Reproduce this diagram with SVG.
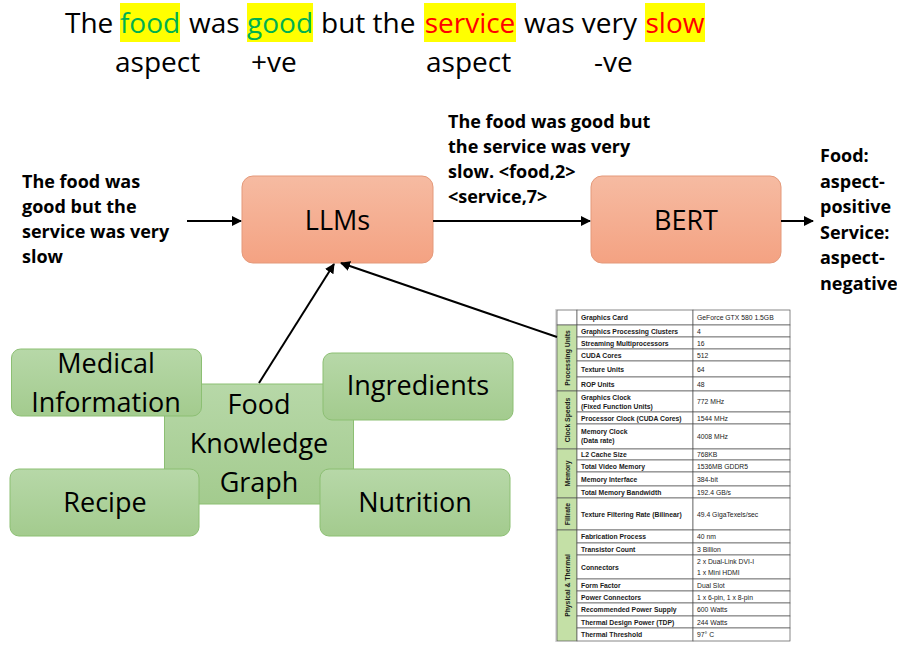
<svg xmlns="http://www.w3.org/2000/svg" width="897" height="645" viewBox="0 0 897 645">
<defs>
<linearGradient id="gOr" x1="0" y1="0" x2="0" y2="1"><stop offset="0" stop-color="#F6BBA2"/><stop offset="1" stop-color="#F4A282"/></linearGradient>
<linearGradient id="gGr" x1="0" y1="0" x2="0" y2="1"><stop offset="0" stop-color="#B7D8A8"/><stop offset="1" stop-color="#A3CB8E"/></linearGradient>
<marker id="ah" viewBox="0 0 10 10" refX="9" refY="5" markerWidth="5" markerHeight="5" orient="auto" markerUnits="strokeWidth"><path d="M0,0 L10,5 L0,10 z" fill="#000"/></marker>
<style>
.big{font-family:"Open Sans","Liberation Sans",sans-serif;font-size:28px;fill:#000}
.node{font-family:"Open Sans","Liberation Sans",sans-serif;font-size:27px;fill:#000;text-anchor:middle}
.bold{font-family:"Open Sans","Liberation Sans",sans-serif;font-size:18px;font-weight:bold;fill:#000}
.or{fill:url(#gOr);stroke:#E4997A;stroke-width:1}
.gr{fill:url(#gGr);stroke:#8CBF73;stroke-width:1}
.hl{fill:#FFFF00}
.conn{stroke:#000;stroke-width:2;fill:none;marker-end:url(#ah)}
.tl{font-family:"Liberation Sans",Arial,sans-serif;font-size:6.8px;font-weight:bold;fill:#1a1a1a}
.tv{font-family:"Liberation Sans",Arial,sans-serif;font-size:6.8px;fill:#1a1a1a}
.tc{font-family:"Liberation Sans",Arial,sans-serif;font-size:6.8px;font-weight:bold;fill:#1a1a1a;text-anchor:middle}
.cell{fill:#fff;stroke:#555;stroke-width:0.7}
.cat{fill:#C4E0A6;stroke:#555;stroke-width:0.7}
</style>
</defs>
<rect width="897" height="645" fill="#fff"/>

<g id="sentence">
<rect class="hl" x="120" y="3" width="60" height="39"/>
<rect class="hl" x="247" y="3" width="66" height="39"/>
<rect class="hl" x="424" y="3" width="92" height="39"/>
<rect class="hl" x="645" y="3" width="60" height="39"/>
<text class="big" y="33" x="65">The</text>
<text class="big" y="33" x="150" text-anchor="middle" style="fill:#00B050">food</text>
<text class="big" y="33" x="189">was</text>
<text class="big" y="33" x="280" text-anchor="middle" style="fill:#00B050">good</text>
<text class="big" y="33" x="321">but the</text>
<text class="big" y="33" x="470" text-anchor="middle" style="fill:#FF0000">service</text>
<text class="big" y="33" x="524">was very</text>
<text class="big" y="33" x="675" text-anchor="middle" style="fill:#FF0000">slow</text>
<text class="big" y="72" x="115">aspect</text>
<text class="big" y="72" x="251">+ve</text>
<text class="big" y="72" x="426">aspect</text>
<text class="big" y="72" x="594">-ve</text>
</g>

<g id="input-text">
<text class="bold" x="22" y="188">The food was</text>
<text class="bold" x="22" y="213">good but the</text>
<text class="bold" x="22" y="238">service was very</text>
<text class="bold" x="22" y="263">slow</text>
</g>

<g id="mid-label">
<text class="bold" x="448" y="128">The food was good but</text>
<text class="bold" x="448" y="153">the service was very</text>
<text class="bold" x="448" y="178">slow. &lt;food,2&gt;</text>
<text class="bold" x="448" y="203">&lt;service,7&gt;</text>
</g>

<g id="output-text">
<text class="bold" x="820" y="162">Food:</text>
<text class="bold" x="820" y="187.5">aspect-</text>
<text class="bold" x="820" y="213">positive</text>
<text class="bold" x="820" y="238.5">Service:</text>
<text class="bold" x="820" y="264">aspect-</text>
<text class="bold" x="820" y="289.5">negative</text>
</g>

<g id="llms">
<rect class="or" x="242" y="176" width="191" height="87" rx="11"/>
<text class="node" x="337.5" y="230">LLMs</text>
</g>
<g id="bert">
<rect class="or" x="591" y="176" width="190" height="87" rx="11"/>
<text class="node" x="686" y="230">BERT</text>
</g>

<g id="food-knowledge-graph">
<rect class="gr" x="164.5" y="384" width="189" height="120" rx="1"/>
<text class="node" x="259" y="414">Food</text>
<text class="node" x="259" y="453">Knowledge</text>
<text class="node" x="259" y="492">Graph</text>
</g>
<g id="medical-information">
<rect class="gr" x="11.5" y="349" width="190" height="67" rx="9"/>
<text class="node" x="106" y="373">Medical</text>
<text class="node" x="106" y="412">Information</text>
</g>
<g id="ingredients">
<rect class="gr" x="323" y="353" width="190" height="67" rx="9"/>
<text class="node" x="418" y="395">Ingredients</text>
</g>
<g id="recipe">
<rect class="gr" x="10" y="469" width="189" height="67" rx="9"/>
<text class="node" x="105" y="512">Recipe</text>
</g>
<g id="nutrition">
<rect class="gr" x="320" y="469" width="190" height="67" rx="9"/>
<text class="node" x="415" y="512">Nutrition</text>
</g>

<g id="gpu-table">
<rect x="555" y="309" width="2" height="333" fill="#ddd"/>
<rect class="cell" x="557" y="310" width="20" height="15"/>
<rect class="cell" x="577" y="310" width="116" height="15"/>
<rect class="cell" x="693" y="310" width="97" height="15"/>
<text class="tl" x="581" y="320">Graphics Card</text>
<text class="tv" x="697" y="320">GeForce GTX 580 1.5GB</text>
<rect class="cat" x="557" y="325" width="20" height="66"/>
<rect class="cat" x="557" y="391" width="20" height="58"/>
<rect class="cat" x="557" y="449" width="20" height="49"/>
<rect class="cat" x="557" y="498" width="20" height="32"/>
<rect class="cat" x="557" y="530" width="20" height="111"/>
<text class="tc" transform="translate(569.5,358) rotate(-90)">Processing Units</text>
<text class="tc" transform="translate(569.5,420) rotate(-90)">Clock Speeds</text>
<text class="tc" transform="translate(569.5,473.5) rotate(-90)">Memory</text>
<text class="tc" transform="translate(569.5,514) rotate(-90)">Fillrate</text>
<text class="tc" transform="translate(569.5,585.5) rotate(-90)">Physical &amp; Thermal</text>
<g>
<rect class="cell" x="577" y="325" width="116" height="12"/><rect class="cell" x="693" y="325" width="97" height="12"/>
<text class="tl" x="581" y="333.5">Graphics Processing Clusters</text><text class="tv" x="697" y="333.5">4</text>
<rect class="cell" x="577" y="337" width="116" height="12"/><rect class="cell" x="693" y="337" width="97" height="12"/>
<text class="tl" x="581" y="345.5">Streaming Multiprocessors</text><text class="tv" x="697" y="345.5">16</text>
<rect class="cell" x="577" y="349" width="116" height="12"/><rect class="cell" x="693" y="349" width="97" height="12"/>
<text class="tl" x="581" y="357.5">CUDA Cores</text><text class="tv" x="697" y="357.5">512</text>
<rect class="cell" x="577" y="361" width="116" height="16"/><rect class="cell" x="693" y="361" width="97" height="16"/>
<text class="tl" x="581" y="371.5">Texture Units</text><text class="tv" x="697" y="371.5">64</text>
<rect class="cell" x="577" y="377" width="116" height="14"/><rect class="cell" x="693" y="377" width="97" height="14"/>
<text class="tl" x="581" y="386.5">ROP Units</text><text class="tv" x="697" y="386.5">48</text>
<rect class="cell" x="577" y="391" width="116" height="21"/><rect class="cell" x="693" y="391" width="97" height="21"/>
<text class="tl" x="581" y="399.5">Graphics Clock</text><text class="tl" x="581" y="408.5">(Fixed Function Units)</text><text class="tv" x="697" y="404">772 MHz</text>
<rect class="cell" x="577" y="412" width="116" height="12"/><rect class="cell" x="693" y="412" width="97" height="12"/>
<text class="tl" x="581" y="420.5">Processor Clock (CUDA Cores)</text><text class="tv" x="697" y="420.5">1544 MHz</text>
<rect class="cell" x="577" y="424" width="116" height="25"/><rect class="cell" x="693" y="424" width="97" height="25"/>
<text class="tl" x="581" y="434">Memory Clock</text><text class="tl" x="581" y="443">(Data rate)</text><text class="tv" x="697" y="439">4008 MHz</text>
<rect class="cell" x="577" y="449" width="116" height="11"/><rect class="cell" x="693" y="449" width="97" height="11"/>
<text class="tl" x="581" y="457">L2 Cache  Size</text><text class="tv" x="697" y="457">768KB</text>
<rect class="cell" x="577" y="460" width="116" height="12"/><rect class="cell" x="693" y="460" width="97" height="12"/>
<text class="tl" x="581" y="468.5">Total Video Memory</text><text class="tv" x="697" y="468.5">1536MB GDDR5</text>
<rect class="cell" x="577" y="472" width="116" height="14"/><rect class="cell" x="693" y="472" width="97" height="14"/>
<text class="tl" x="581" y="481.5">Memory Interface</text><text class="tv" x="697" y="481.5">384-bit</text>
<rect class="cell" x="577" y="486" width="116" height="12"/><rect class="cell" x="693" y="486" width="97" height="12"/>
<text class="tl" x="581" y="494.5">Total Memory Bandwidth</text><text class="tv" x="697" y="494.5">192.4 GB/s</text>
<rect class="cell" x="577" y="498" width="116" height="32"/><rect class="cell" x="693" y="498" width="97" height="32"/>
<text class="tl" x="581" y="516.5">Texture Filtering Rate (Bilinear)</text><text class="tv" x="697" y="516.5">49.4 GigaTexels/sec</text>
<rect class="cell" x="577" y="530" width="116" height="13"/><rect class="cell" x="693" y="530" width="97" height="13"/>
<text class="tl" x="581" y="539">Fabrication  Process</text><text class="tv" x="697" y="539">40 nm</text>
<rect class="cell" x="577" y="543" width="116" height="12"/><rect class="cell" x="693" y="543" width="97" height="12"/>
<text class="tl" x="581" y="551.5">Transistor Count</text><text class="tv" x="697" y="551.5">3 Billion</text>
<rect class="cell" x="577" y="555" width="116" height="24"/><rect class="cell" x="693" y="555" width="97" height="24"/>
<text class="tl" x="581" y="569.5">Connectors</text><text class="tv" x="697" y="564">2 x Dual-Link DVI-I</text><text class="tv" x="697" y="575">1  x Mini HDMI</text>
<rect class="cell" x="577" y="579" width="116" height="12"/><rect class="cell" x="693" y="579" width="97" height="12"/>
<text class="tl" x="581" y="587.5">Form Factor</text><text class="tv" x="697" y="587.5">Dual Slot</text>
<rect class="cell" x="577" y="591" width="116" height="12"/><rect class="cell" x="693" y="591" width="97" height="12"/>
<text class="tl" x="581" y="599.5">Power Connectors</text><text class="tv" x="697" y="599.5">1 x 6-pin, 1 x 8-pin</text>
<rect class="cell" x="577" y="603" width="116" height="13"/><rect class="cell" x="693" y="603" width="97" height="13"/>
<text class="tl" x="581" y="612">Recommended  Power Supply</text><text class="tv" x="697" y="612">600 Watts</text>
<rect class="cell" x="577" y="616" width="116" height="12"/><rect class="cell" x="693" y="616" width="97" height="12"/>
<text class="tl" x="581" y="624.5">Thermal Design Power (TDP)</text><text class="tv" x="697" y="624.5">244 Watts</text>
<rect class="cell" x="577" y="628" width="116" height="13"/><rect class="cell" x="693" y="628" width="97" height="13"/>
<text class="tl" x="581" y="637">Thermal Threshold</text><text class="tv" x="697" y="637">97° C</text>
</g>
</g>

<g id="connectors">
<line class="conn" x1="187" y1="221" x2="241" y2="221"/>
<line class="conn" x1="433" y1="221" x2="590" y2="221"/>
<line class="conn" x1="781" y1="221" x2="813" y2="221"/>
<line class="conn" x1="259" y1="383" x2="334" y2="264"/>
<line class="conn" x1="557" y1="337" x2="341" y2="263"/>
</g>
</svg>
